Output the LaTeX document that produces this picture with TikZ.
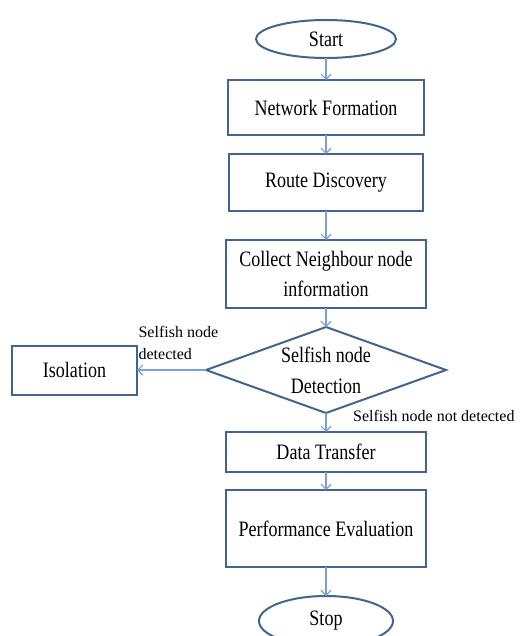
\documentclass[tikz,border=0pt]{standalone}
\usepackage{fontspec}
\setmainfont{Liberation Serif}[FakeStretch=0.82]
\newfontfamily\labelfont{Liberation Serif}
\usetikzlibrary{positioning}
\usetikzlibrary{shapes.geometric}
\usetikzlibrary{arrows.meta}
\definecolor{boxblue}{RGB}{65,100,145}
\definecolor{lineblue}{RGB}{120,160,210}
\tikzset{box node/.style={rectangle,draw=boxblue,line width=2pt,minimum width=200pt,inner sep=0pt,outer sep=0pt,align=center,font=\fontsize{22}{30}\selectfont},
  end node/.style={ellipse,draw=boxblue,line width=2pt,minimum width=140pt,minimum height=38pt,inner sep=0pt,outer sep=0pt,font=\fontsize{22}{26}\selectfont},
  test node/.style={diamond,draw=boxblue,line width=2pt,minimum width=240pt,minimum height=86pt,inner sep=0pt,outer sep=0pt,aspect=2.8,align=center,font=\fontsize{22}{31}\selectfont},
  small label/.style={inner sep=1pt,align=left,font=\labelfont\fontsize{16}{22}\selectfont},}

\begin{document}
\begin{tikzpicture}
  \useasboundingbox (0pt,0pt) rectangle (522pt,-636pt);
  \node[end node] (start) at (326pt,-39pt) {Start};
  \node[box node, minimum width=196pt, minimum height=55pt] (net) [below = 22pt of start] {Network Formation};
  \node[box node, minimum width=194pt, minimum height=57pt] (route) [below = 19pt of net] {Route Discovery};
  \node[box node, minimum height=68pt] (collect) [below = 29pt of route] {Collect Neighbour node\\information};
  \node[test node] (detect) [below = 19pt of collect] {Selfish node\\Detection};
  \node[box node, minimum width=125pt, minimum height=49pt] (iso) [left = 69pt of detect] {Isolation};
  \node[box node, minimum height=40pt] (transfer) [below = 19pt of detect] {Data Transfer};
  \node[box node, minimum height=77pt] (perf) [below = 18pt of transfer] {Performance Evaluation};
  \node[end node, minimum width=134pt, minimum height=50pt] (stop) [below = 29pt of perf] {Stop};
  \node[small label, anchor=base west] (notdet) at ([xshift=26pt,yshift=-8pt]detect.south) {Selfish node not detected};

  \path[-{Straight Barb[length=5pt,width=10pt]}, color=lineblue, line width=1.2pt]
    (start) edge (net)
    (net) edge (route)
    (route) edge (collect)
    (collect) edge (detect)
    (detect) edge node[small label, pos=1, anchor=south west, yshift=9pt, text=black] {Selfish node\\detected} (iso)
    (detect) edge (transfer)
    (transfer) edge (perf)
    (perf) edge (stop);
\end{tikzpicture}
\end{document}
